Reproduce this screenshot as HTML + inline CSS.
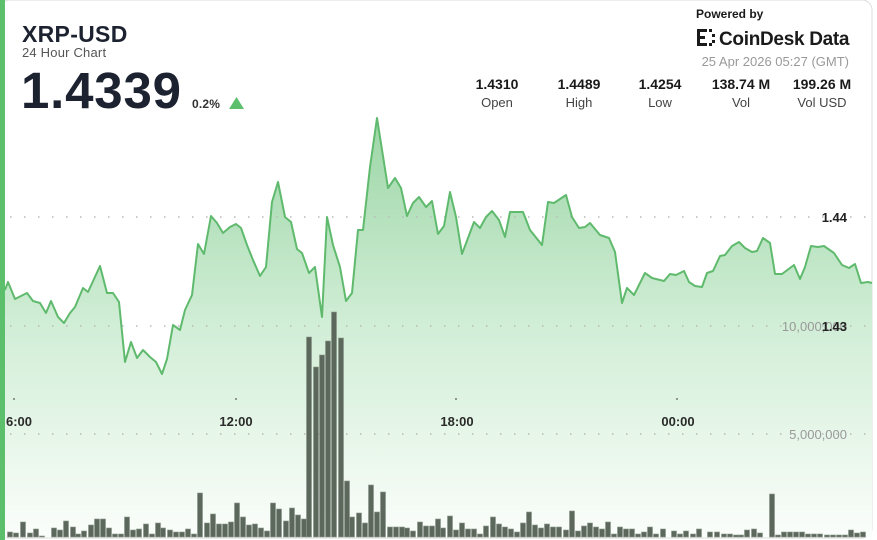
<!DOCTYPE html>
<html><head><meta charset="utf-8"><style>
html,body{margin:0;padding:0;background:#fff;}
body{width:877px;height:540px;overflow:hidden;position:relative;font-family:"Liberation Sans",Arial,sans-serif;}
</style></head><body>
<svg width="877" height="540" viewBox="0 0 877 540" xmlns="http://www.w3.org/2000/svg" style="position:absolute;left:0;top:0">
<defs>
<linearGradient id="g" x1="0" y1="118" x2="0" y2="540" gradientUnits="userSpaceOnUse">
<stop offset="0" stop-color="#9cd6a6"/>
<stop offset="0.5" stop-color="#d2eed7"/>
<stop offset="1" stop-color="#fbfefb"/>
</linearGradient>
</defs>
<rect x="0" y="0" width="872" height="538" rx="10" fill="#fff" stroke="#dcdcdc"/>
<path d="M5,290 L8,282 L15,299 L27,293 L33,301 L40,303 L46,313 L51,301 L58,317 L64,323 L70,313 L75,307 L83,288 L88,292 L100,266 L107,293 L113,293 L119,302 L125,362 L131,342 L137,358 L143,350 L150,357 L156,362 L162,374 L167,359 L173,325 L180,330 L185,310 L192,295 L198,244 L204,254 L211,216 L217,223 L223,233 L230,227 L236,224 L241,228 L247,245 L253,260 L260,276 L266,267 L272,202 L278,182 L285,217 L291,222 L297,249 L302,253 L309,273 L315,267 L322,317 L327,217 L333,245 L340,267 L346,301 L352,293 L358,230 L363,230 L370,167 L377,118 L388,188 L395,178 L401,188 L407,216 L413,203 L419,197 L426,207 L432,201 L438,234 L444,226 L450,192 L456,217 L462,254 L474,222 L480,228 L486,217 L492,211 L499,220 L505,237 L510,212 L523,212 L530,230 L542,245 L548,202 L554,203 L566,195 L572,217 L579,228 L585,227 L590,223 L600,235 L609,238 L615,252 L622,303 L627,288 L634,295 L645,273 L652,278 L664,281 L670,274 L676,275 L684,271 L689,282 L695,286 L702,287 L707,273 L713,271 L720,256 L725,255 L732,246 L739,242 L745,248 L752,252 L757,251 L763,238 L770,243 L775,274 L782,274 L794,265 L800,279 L805,267 L811,246 L818,247 L824,246 L834,253 L842,265 L849,268 L855,264 L861,283 L868,282 L872,283 L872,537 L5,537 Z" fill="url(#g)"/>
<g stroke="#b8b8b8" stroke-width="1.5" stroke-dasharray="1.5 12.5" fill="none">
<line x1="10" y1="217" x2="872" y2="217"/>
<line x1="10" y1="326" x2="872" y2="326"/>
<line x1="10" y1="434" x2="872" y2="434"/>
</g>
<g fill="#5d685d" stroke="#8a968a" stroke-width="0.6">
<rect x="7.5" y="532" width="5" height="5"/><rect x="13.5" y="533" width="5" height="4"/><rect x="20.5" y="522" width="5" height="15"/><rect x="27.5" y="533" width="5" height="4"/><rect x="33.5" y="529" width="5" height="8"/><rect x="39.5" y="536" width="5" height="1"/><rect x="51.5" y="528" width="5" height="9"/><rect x="57.5" y="530" width="5" height="7"/><rect x="63.5" y="521" width="5" height="16"/><rect x="70.5" y="527" width="5" height="10"/><rect x="75.5" y="534" width="5" height="3"/><rect x="81.5" y="531" width="5" height="6"/><rect x="88.5" y="525" width="5" height="12"/><rect x="94.5" y="519" width="5" height="18"/><rect x="100.5" y="519" width="5" height="18"/><rect x="106.5" y="528" width="5" height="9"/><rect x="112.5" y="534" width="5" height="3"/><rect x="118.5" y="534" width="5" height="3"/><rect x="124.5" y="517" width="5" height="20"/><rect x="130.5" y="530" width="5" height="7"/><rect x="136.5" y="529" width="5" height="8"/><rect x="143.5" y="524" width="5" height="13"/><rect x="149.5" y="534" width="5" height="3"/><rect x="155.5" y="523" width="5" height="14"/><rect x="160.5" y="528" width="5" height="9"/><rect x="167.5" y="530" width="5" height="7"/><rect x="173.5" y="532" width="5" height="5"/><rect x="179.5" y="532" width="5" height="5"/><rect x="185.5" y="529" width="5" height="8"/><rect x="191.5" y="534" width="5" height="3"/><rect x="197.5" y="493" width="5" height="44"/><rect x="204.5" y="523" width="5" height="14"/><rect x="210.5" y="514" width="5" height="23"/><rect x="216.5" y="524" width="5" height="13"/><rect x="222.5" y="524" width="5" height="13"/><rect x="228.5" y="522" width="5" height="15"/><rect x="234.5" y="503" width="5" height="34"/><rect x="240.5" y="517" width="5" height="20"/><rect x="246.5" y="525" width="5" height="12"/><rect x="252.5" y="524" width="5" height="13"/><rect x="258.5" y="528" width="5" height="9"/><rect x="264.5" y="531" width="5" height="6"/><rect x="270.5" y="503" width="5" height="34"/><rect x="276.5" y="509" width="5" height="28"/><rect x="283.5" y="521" width="5" height="16"/><rect x="289.5" y="508" width="5" height="29"/><rect x="295.5" y="515" width="5" height="22"/><rect x="301.5" y="519" width="5" height="18"/><rect x="306.5" y="337" width="5" height="200"/><rect x="313.5" y="367" width="5" height="170"/><rect x="319.5" y="355" width="5" height="182"/><rect x="325.5" y="341" width="5" height="196"/><rect x="331.5" y="312" width="5" height="225"/><rect x="338.5" y="338" width="5" height="199"/><rect x="344.5" y="481" width="5" height="56"/><rect x="349.5" y="517" width="5" height="20"/><rect x="356.5" y="513" width="5" height="24"/><rect x="362.5" y="523" width="5" height="14"/><rect x="368.5" y="485" width="5" height="52"/><rect x="374.5" y="512" width="5" height="25"/><rect x="380.5" y="492" width="5" height="45"/><rect x="387.5" y="527" width="5" height="10"/><rect x="393.5" y="527" width="5" height="10"/><rect x="399.5" y="527" width="5" height="10"/><rect x="404.5" y="528" width="5" height="9"/><rect x="410.5" y="531" width="5" height="6"/><rect x="417.5" y="522" width="5" height="15"/><rect x="423.5" y="526" width="5" height="11"/><rect x="429.5" y="526" width="5" height="11"/><rect x="435.5" y="519" width="5" height="18"/>
<rect x="440.5" y="528" width="5" height="9"/><rect x="447.5" y="516" width="5" height="21"/><rect x="453.5" y="530" width="5" height="7"/><rect x="459.5" y="523" width="5" height="14"/><rect x="465.5" y="529" width="5" height="8"/><rect x="471.5" y="529" width="5" height="8"/><rect x="477.5" y="534" width="5" height="3"/><rect x="483.5" y="526" width="5" height="11"/><rect x="490.5" y="517" width="5" height="20"/><rect x="496.5" y="524" width="5" height="13"/><rect x="502.5" y="527" width="5" height="10"/><rect x="508.5" y="529" width="5" height="8"/><rect x="514.5" y="532" width="5" height="5"/><rect x="520.5" y="523" width="5" height="14"/><rect x="526.5" y="512" width="5" height="25"/><rect x="532.5" y="525" width="5" height="12"/><rect x="538.5" y="528" width="5" height="9"/><rect x="544.5" y="524" width="5" height="13"/><rect x="550.5" y="527" width="5" height="10"/><rect x="556.5" y="527" width="5" height="10"/><rect x="563.5" y="530" width="5" height="7"/><rect x="569.5" y="511" width="5" height="26"/><rect x="575.5" y="531" width="5" height="6"/><rect x="581.5" y="526" width="5" height="11"/><rect x="587.5" y="523" width="5" height="14"/><rect x="593.5" y="527" width="5" height="10"/><rect x="599.5" y="529" width="5" height="8"/><rect x="605.5" y="522" width="5" height="15"/><rect x="611.5" y="534" width="5" height="3"/><rect x="617.5" y="527" width="5" height="10"/><rect x="623.5" y="529" width="5" height="8"/><rect x="629.5" y="529" width="5" height="8"/><rect x="635.5" y="534" width="5" height="3"/><rect x="641.5" y="532" width="5" height="5"/><rect x="647.5" y="527" width="5" height="10"/><rect x="653.5" y="534" width="5" height="3"/><rect x="660.5" y="529" width="5" height="8"/><rect x="671.5" y="531" width="5" height="6"/><rect x="677.5" y="534" width="5" height="3"/><rect x="683.5" y="531" width="5" height="6"/><rect x="690.5" y="534" width="5" height="3"/><rect x="696.5" y="529" width="5" height="8"/><rect x="707.5" y="532" width="5" height="5"/><rect x="714.5" y="532" width="5" height="5"/><rect x="721.5" y="534" width="5" height="3"/><rect x="727.5" y="534" width="5" height="3"/><rect x="733.5" y="535" width="5" height="2"/><rect x="738.5" y="535" width="5" height="2"/><rect x="744.5" y="530" width="5" height="7"/><rect x="751.5" y="529" width="5" height="8"/><rect x="757.5" y="533" width="5" height="4"/><rect x="769.5" y="494" width="5" height="43"/><rect x="775.5" y="535" width="5" height="2"/><rect x="781.5" y="532" width="5" height="5"/><rect x="787.5" y="532" width="5" height="5"/><rect x="793.5" y="532" width="5" height="5"/><rect x="799.5" y="532" width="5" height="5"/><rect x="805.5" y="534" width="5" height="3"/><rect x="811.5" y="534" width="5" height="3"/><rect x="817.5" y="534" width="5" height="3"/><rect x="824.5" y="535" width="5" height="2"/><rect x="830.5" y="535" width="5" height="2"/><rect x="836.5" y="535" width="5" height="2"/><rect x="842.5" y="535" width="5" height="2"/><rect x="848.5" y="530" width="5" height="7"/><rect x="854.5" y="533" width="5" height="4"/><rect x="860.5" y="532" width="5" height="5"/>
</g>
<path d="M5,290 L8,282 L15,299 L27,293 L33,301 L40,303 L46,313 L51,301 L58,317 L64,323 L70,313 L75,307 L83,288 L88,292 L100,266 L107,293 L113,293 L119,302 L125,362 L131,342 L137,358 L143,350 L150,357 L156,362 L162,374 L167,359 L173,325 L180,330 L185,310 L192,295 L198,244 L204,254 L211,216 L217,223 L223,233 L230,227 L236,224 L241,228 L247,245 L253,260 L260,276 L266,267 L272,202 L278,182 L285,217 L291,222 L297,249 L302,253 L309,273 L315,267 L322,317 L327,217 L333,245 L340,267 L346,301 L352,293 L358,230 L363,230 L370,167 L377,118 L388,188 L395,178 L401,188 L407,216 L413,203 L419,197 L426,207 L432,201 L438,234 L444,226 L450,192 L456,217 L462,254 L474,222 L480,228 L486,217 L492,211 L499,220 L505,237 L510,212 L523,212 L530,230 L542,245 L548,202 L554,203 L566,195 L572,217 L579,228 L585,227 L590,223 L600,235 L609,238 L615,252 L622,303 L627,288 L634,295 L645,273 L652,278 L664,281 L670,274 L676,275 L684,271 L689,282 L695,286 L702,287 L707,273 L713,271 L720,256 L725,255 L732,246 L739,242 L745,248 L752,252 L757,251 L763,238 L770,243 L775,274 L782,274 L794,265 L800,279 L805,267 L811,246 L818,247 L824,246 L834,253 L842,265 L849,268 L855,264 L861,283 L868,282 L872,283" fill="none" stroke="#5fba6d" stroke-width="2" stroke-linejoin="round"/>
<rect x="0" y="0" width="5" height="540" fill="#5cbf6c"/>
<g fill="#555"><circle cx="14" cy="399" r="0.9"/><circle cx="236" cy="399" r="0.9"/><circle cx="456" cy="399" r="0.9"/><circle cx="677" cy="399" r="0.9"/></g>
<g font-family="Liberation Sans, Arial, sans-serif" font-weight="bold" font-size="13" fill="#2a2a2a">
<text x="6" y="426">6:00</text>
<text x="236" y="426" text-anchor="middle">12:00</text>
<text x="457" y="426" text-anchor="middle">18:00</text>
<text x="678" y="426" text-anchor="middle">00:00</text>
</g>
<g font-family="Liberation Sans, Arial, sans-serif" font-size="13" fill="#999" text-anchor="end">
<text x="847" y="331">10,000,000</text>
<text x="847" y="439">5,000,000</text>
</g>
<g font-family="Liberation Sans, Arial, sans-serif" font-weight="bold" font-size="13" fill="#222" text-anchor="end">
<text x="847" y="222">1.44</text>
<text x="847" y="331">1.43</text>
</g>
<g font-family="Liberation Sans, Arial, sans-serif" fill="#1c2230">
<text x="22" y="42" font-size="23" font-weight="bold" letter-spacing="0.3">XRP-USD</text>
<text x="22" y="57" font-size="13" fill="#555" letter-spacing="0.2">24 Hour Chart</text>
<text x="21" y="108" font-size="51" font-weight="bold" letter-spacing="0.8">1.4339</text>
<text x="192" y="108" font-size="12" font-weight="bold" fill="#333" letter-spacing="0.2">0.2%</text>
</g>
<polygon points="229,109 244,109 236.5,97" fill="#5cbf6c"/>
<g font-family="Liberation Sans, Arial, sans-serif" fill="#1a1a1a">
<text x="696" y="18" font-size="12" font-weight="bold">Powered by</text>
<text x="719" y="45" font-size="19" font-weight="bold" letter-spacing="-0.3">CoinDesk Data</text>
<text x="849" y="66" font-size="13" fill="#999" text-anchor="end">25 Apr 2026 05:27 (GMT)</text>
</g>
<g fill="#1a1a1a">
<rect x="697" y="29" width="3" height="17"/><rect x="697" y="29" width="10" height="3"/><rect x="697" y="43" width="10" height="3"/><rect x="700" y="36" width="5" height="3"/>
<rect x="709" y="29" width="3" height="3"/><rect x="709" y="43" width="3" height="3"/><rect x="712" y="34" width="3" height="3"/><rect x="712" y="40" width="3" height="3"/>
</g>
<g font-family="Liberation Sans, Arial, sans-serif" text-anchor="middle">
<g font-size="14" font-weight="bold" fill="#1a1a1a">
<text x="497" y="89">1.4310</text><text x="579" y="89">1.4489</text><text x="660" y="89">1.4254</text><text x="741" y="89">138.74 M</text><text x="822" y="89">199.26 M</text>
</g>
<g font-size="13" fill="#444">
<text x="497" y="107">Open</text><text x="579" y="107">High</text><text x="660" y="107">Low</text><text x="741" y="107">Vol</text><text x="822" y="107">Vol USD</text>
</g>
</g>
</svg>
</body></html>
